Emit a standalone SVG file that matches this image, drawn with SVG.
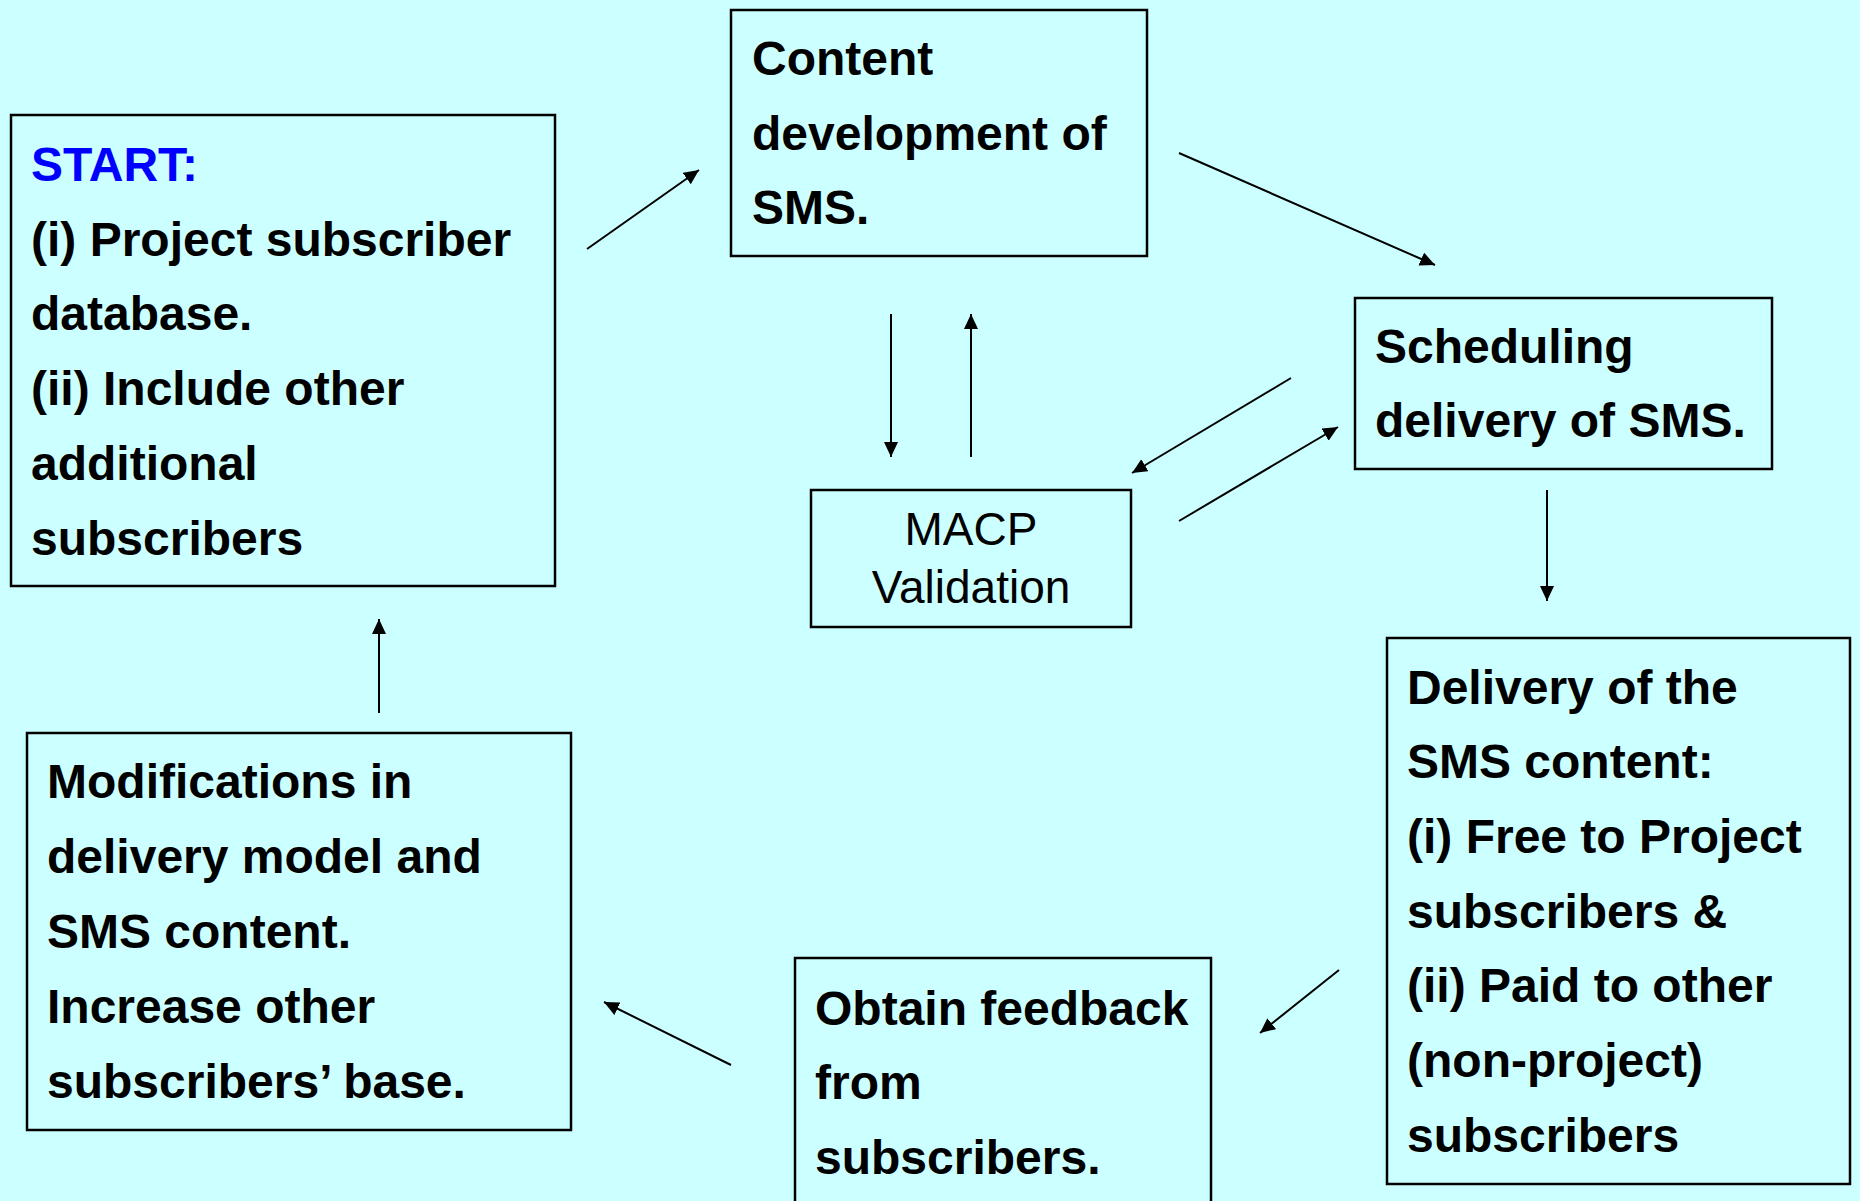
<svg xmlns="http://www.w3.org/2000/svg" width="1860" height="1201" viewBox="0 0 1860 1201">
  <style>
    .box { fill: none; stroke: #000; stroke-width: 2.5; }
    .label { font-family: "Liberation Sans", Arial, Helvetica, sans-serif; font-size: 48px; font-weight: bold; fill: #000; }
    .start { fill: #0000FF; }
    .plain { font-family: "Liberation Sans", Arial, Helvetica, sans-serif; font-size: 46px; fill: #000; text-anchor: middle; }
    .edge { stroke: #000; stroke-width: 2; fill: none; marker-end: url(#arrow); }
  </style>
  <defs>
    <marker id="arrow" markerUnits="userSpaceOnUse" markerWidth="16" markerHeight="16" refX="15" refY="7" orient="auto">
      <path d="M0,0 L15,7 L0,14 z" fill="#000"/>
    </marker>
  </defs>

  <rect x="0" y="0" width="1860" height="1201" fill="#CCFFFF"/>

  <!-- starting point -->
  <g id="start">
    <rect class="box" x="11" y="115" width="544" height="471"/>
    <text class="label start" x="31" y="181">START:</text>
    <text class="label" x="31" y="256">(i) Project subscriber</text>
    <text class="label" x="31" y="330">database.</text>
    <text class="label" x="31" y="405">(ii) Include other</text>
    <text class="label" x="31" y="480">additional</text>
    <text class="label" x="31" y="555">subscribers</text>
  </g>

  <g id="content">
    <rect class="box" x="731" y="10" width="416" height="246"/>
    <text class="label" x="752" y="75">Content</text>
    <text class="label" x="752" y="150">development of</text>
    <text class="label" x="752" y="224">SMS.</text>
  </g>

  <g id="macp">
    <rect class="box" x="811" y="490" width="320" height="137"/>
    <text class="plain" x="971" y="545">MACP</text>
    <text class="plain" x="971" y="603">Validation</text>
  </g>

  <g id="scheduling">
    <rect class="box" x="1355" y="298" width="417" height="171"/>
    <text class="label" x="1375" y="363">Scheduling</text>
    <text class="label" x="1375" y="437">delivery of SMS.</text>
  </g>

  <g id="delivery">
    <rect class="box" x="1387" y="638" width="463" height="546"/>
    <text class="label" x="1407" y="704">Delivery of the</text>
    <text class="label" x="1407" y="778">SMS content:</text>
    <text class="label" x="1407" y="853">(i) Free to Project</text>
    <text class="label" x="1407" y="928">subscribers &amp;</text>
    <text class="label" x="1407" y="1002">(ii) Paid to other</text>
    <text class="label" x="1407" y="1077">(non-project)</text>
    <text class="label" x="1407" y="1152">subscribers</text>
  </g>

  <g id="feedback">
    <rect class="box" x="795" y="958" width="416" height="260"/>
    <text class="label" x="815" y="1025">Obtain feedback</text>
    <text class="label" x="815" y="1099">from</text>
    <text class="label" x="815" y="1174">subscribers.</text>
  </g>

  <g id="modifications">
    <rect class="box" x="27" y="733" width="544" height="397"/>
    <text class="label" x="47" y="798">Modifications in</text>
    <text class="label" x="47" y="873">delivery model and</text>
    <text class="label" x="47" y="948">SMS content.</text>
    <text class="label" x="47" y="1023">Increase other</text>
    <text class="label" x="47" y="1098">subscribers’ base.</text>
  </g>

  <g id="connectors">
    <line class="edge" x1="587" y1="249" x2="699" y2="170"/>
    <line class="edge" x1="1179" y1="153" x2="1435" y2="265"/>
    <line class="edge" x1="891" y1="314" x2="891" y2="457"/>
    <line class="edge" x1="971" y1="457" x2="971" y2="314"/>
    <line class="edge" x1="1291" y1="378" x2="1132" y2="473"/>
    <line class="edge" x1="1179" y1="521" x2="1338" y2="427"/>
    <line class="edge" x1="1547" y1="490" x2="1547" y2="601"/>
    <line class="edge" x1="1339" y1="970" x2="1260" y2="1033"/>
    <line class="edge" x1="731" y1="1065" x2="604" y2="1002"/>
    <line class="edge" x1="379" y1="713" x2="379" y2="619"/>
  </g>
</svg>
